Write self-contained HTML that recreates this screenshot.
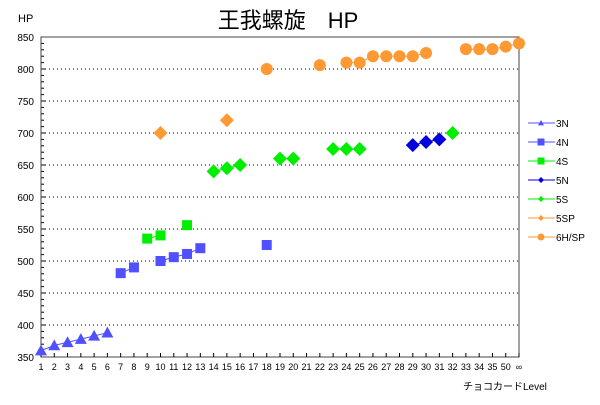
<!DOCTYPE html>
<html><head><meta charset="utf-8"><style>
body{margin:0;background:#fff}
svg text{font-family:"Liberation Sans","Noto Sans CJK JP",sans-serif}
</style></head><body>
<svg id="c" width="600" height="400" viewBox="0 0 600 400" xmlns="http://www.w3.org/2000/svg">
<rect width="600" height="400" fill="#fff"/>
<text x="288" y="28" font-size="22" text-anchor="middle">王我螺旋　HP</text>
<text x="18" y="22" font-size="11">HP</text>
<text x="463" y="390" font-size="10">チョコカードLevel</text>
<g id="grid"></g><g id="axes"></g><g id="marks"></g><g id="legend"></g>
</svg>
<script>
const categories=["1","2","3","4","5","6","7","8","9","10","11","12","13","14","15","16","17","18","19","20","21","22","23","24","25","26","27","28","29","30","31","32","33","34","35","50","∞"];
const yTicks=[350,400,450,500,550,600,650,700,750,800,850];
const seriesNames=["3N","4N","4S","5N","5S","5SP","6H/SP"];
const s3N=[["1",360],["2",368],["3",373],["4",378],["5",383],["6",388]];
const s4N=[["7",481],["8",490],["10",500],["11",506],["12",511],["13",520],["18",525]];
const s4S=[["9",535],["10",540],["12",556]];
const s5N=[["29",681],["30",686],["31",690]];
const s5S=[["14",640],["15",645],["16",650],["19",660],["20",660],["23",675],["24",675],["25",675],["32",700]];
const s5SP=[["10",700],["15",720]];
const s6H=[["18",800],["22",806],["24",810],["25",810],["26",820],["27",820],["28",820],["29",820],["30",825],["33",831],["34",831],["35",831],["50",835],["∞",840]];
const NS="http://www.w3.org/2000/svg";
const L=41,R=519,T=37,B=357,ymin=350,ymax=850;
const xs=c=>L+categories.indexOf(c)*(R-L)/(categories.length-1);
const ys=v=>B-(v-ymin)/(ymax-ymin)*(B-T);
function mk(tag,attrs,parent){const e=document.createElementNS(NS,tag);for(const k in attrs)e.setAttribute(k,attrs[k]);document.getElementById(parent).appendChild(e);return e;}
yTicks.forEach(v=>{
  if(v>ymin&&v<ymax){const g=mk('line',{x1:L,x2:R,y1:ys(v),y2:ys(v),stroke:'#000','stroke-dasharray':'1,3'},'grid');
  
  }
  const t=mk('text',{x:34,y:ys(v)+4,'font-size':10,'text-anchor':'end'},'axes');t.textContent=v;
  
  
});
for(let v=ymin;v<=ymax;v+=10){const m=mk('line',{x1:L,x2:L+(v%50?3:5),y1:ys(v),y2:ys(v),stroke:'#000'},'axes');

}
const fr=mk('path',{d:`M${L} ${T}H${R}V${B}H${L}Z`,fill:'none',stroke:'#444'},'axes');


categories.forEach((c,i)=>{const x=xs(c);
  const tk=mk('line',{x1:x,x2:x,y1:B,y2:B-4,stroke:'#000'},'axes');
  
  
  const t=mk('text',{x:x,y:370,'font-size':9,'text-anchor':'middle'},'axes');t.textContent=c;
  
  
});
function marker(type,x,y,color,sz,parent,name){let e;
  if(type==='tri')e=mk('polygon',{points:`${x},${y-sz} ${x-sz},${y+sz*0.8} ${x+sz},${y+sz*0.8}`,fill:color},parent);
  else if(type==='sq')e=mk('rect',{x:x-sz,y:y-sz,width:2*sz,height:2*sz,fill:color},parent);
  else if(type==='dia')e=mk('polygon',{points:`${x},${y-sz} ${x+sz},${y} ${x},${y+sz} ${x-sz},${y}`,fill:color},parent);
  else e=mk('circle',{cx:x,cy:y,r:sz,fill:color},parent);
  
  }
const defs=[[s3N,'tri','#5050ff',6],[s4N,'sq','#5050ff',5],[s4S,'sq','#00ee00',5],[s5N,'dia','#0000dd',7],[s5S,'dia','#00ee00',7],[s5SP,'dia','#ff9933',7],[s6H,'circ','#ff9933',6]];
defs.forEach(([data,type,col,sz],si)=>{
  for(let i=1;i<data.length;i++){const a=data[i-1],b=data[i];
    if(categories.indexOf(b[0])-categories.indexOf(a[0])===1){
      const ln=mk('line',{x1:xs(a[0]),y1:ys(a[1]),x2:xs(b[0]),y2:ys(b[1]),stroke:col,'stroke-width':1},'marks');
      
      }}
  data.forEach(p=>marker(type,xs(p[0]),ys(p[1]),col,sz,'marks','point-'+seriesNames[si]+'-'+p[0]));
  const ly=123+si*19;
  const ll=mk('line',{x1:528,x2:555,y1:ly,y2:ly,stroke:col},'legend');
  
  
  marker(type,541,ly,col,type==='sq'?3.5:(type==='circ'?3.5:3),'legend','legend-marker-'+seriesNames[si]);
  const t=mk('text',{x:556,y:ly+4,'font-size':10},'legend');t.textContent=seriesNames[si];
  
  
});
</script>
</body></html>
